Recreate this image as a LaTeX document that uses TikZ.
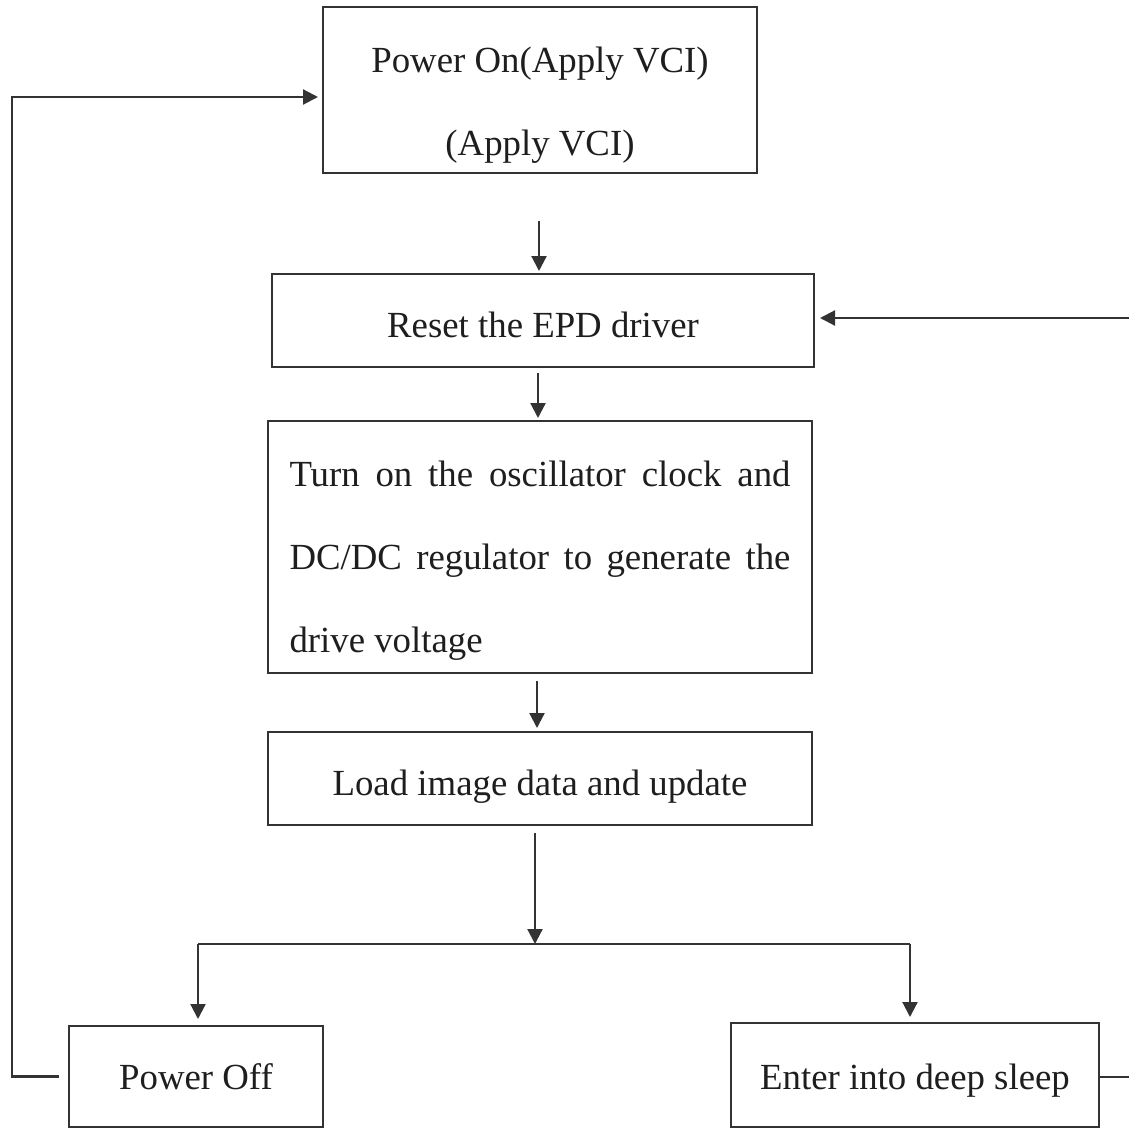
\documentclass[tikz,border=0pt]{standalone}
\usepackage{fontspec}
\setmainfont{Liberation Serif}
\usetikzlibrary{arrows.meta}
\definecolor{linec}{HTML}{333333}
\definecolor{txtc}{HTML}{1E1E1E}
\begin{document}
\begin{tikzpicture}[x=1pt,y=-1pt,
  box/.style={draw=linec, line width=2pt, inner sep=0pt, text=txtc,
    font=\fontsize{36.8}{83}\selectfont},
  conn/.style={draw=linec, line width=2.2pt, -{Triangle[length=15pt,width=15pt]}},
  plainline/.style={draw=linec, line width=2.2pt}]
\useasboundingbox (0,0) rectangle (1128,1129);
\fill[white] (0,0) rectangle (1128,1129);
\node[box, minimum width=434pt, minimum height=166pt, align=center] (pon) at (540,90)
  {\rule{0pt}{55pt}Power On(Apply VCI)\\(Apply VCI)};
\node[box, minimum width=542pt, minimum height=93pt, text height=33pt, text depth=0pt] (reset) at (543,320.5)
  {Reset the EPD driver};
\node[box, minimum width=544pt, minimum height=252pt, text width=501pt, align=justify] (osc) at (540,547)
  {\rule{0pt}{53pt}Turn on the oscillator clock and \linebreak DC/DC regulator to generate the \linebreak drive voltage};
\node[box, minimum width=544pt, minimum height=93pt, text height=41pt, text depth=8pt] (load) at (540,778.5)
  {Load image data and update};
\node[box, minimum width=254pt, minimum height=101pt] (poff) at (196,1076.5)
  {Power Off};
\node[box, minimum width=368pt, minimum height=104pt, text height=37pt, text depth=8pt] (sleep) at (915,1075)
  {Enter into deep sleep};
% vertical flow
\draw[conn, shorten >=2pt] ([xshift=-1pt,yshift=-47pt]pon.south) -- ([xshift=-1pt]pon.south |- reset.north);
\draw[conn, shorten >=2pt] ([xshift=-5pt,yshift=-5pt]reset.south) -- ([xshift=-5pt]reset.south |- osc.north);
\draw[conn, shorten >=3pt] ([xshift=-3pt,yshift=-7pt]osc.south) -- ([xshift=-3pt]osc.south |- load.north);
\coordinate (j) at (535,944);
\coordinate (jl) at (198,944);
\coordinate (jr) at (910,944);
\draw[conn] ([xshift=-5pt,yshift=-7pt]load.south) -- (j);
\draw[plainline] (jl) -- (jr);
\draw[conn, shorten >=6pt] (jl) -- (jl |- poff.north);
\draw[conn, shorten >=5pt] (jr) -- (jr |- sleep.north);
% left loop
\coordinate (lt) at (12,97);
\draw[conn, shorten >=4pt] ([xshift=-9pt]poff.west) -| (lt) -- (lt -| pon.west);
% right loop
\coordinate (rb) at (1132,1077);
\coordinate (rt) at (1132,318);
\draw[plainline] (sleep.east |- rb) -- (rb);
\draw[conn, shorten >=5pt] (rt) -- (reset.east |- rt);
\end{tikzpicture}
\end{document}
